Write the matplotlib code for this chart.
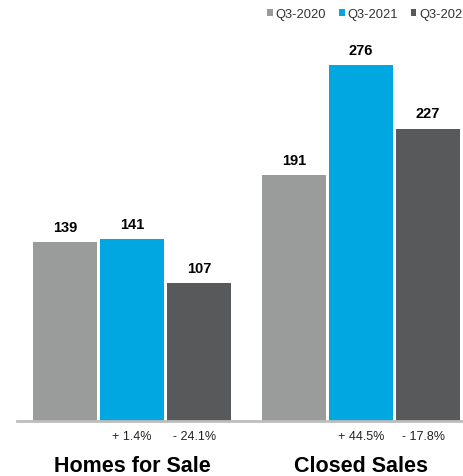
import numpy as np
import matplotlib.pyplot as plt

plt.rcParams['font.family'] = ['Liberation Sans', 'DejaVu Sans']

categories = ['Homes for Sale', 'Closed Sales']
series = ['Q3-2020', 'Q3-2021', 'Q3-2022']
q3_2020 = [139, 191]
q3_2021 = [141, 276]
q3_2022 = [107, 227]
chg_2021 = ['+ 1.4%', '+ 44.5%']
chg_2022 = ['- 24.1%', '- 17.8%']

colors = ['#9a9c9c', '#00a7e1', '#58595b']

fig = plt.figure(figsize=(4.63, 4.77), dpi=100)
ax = fig.add_axes([17 / 463, 55 / 477, 446 / 463, 422 / 477])

x = np.arange(len(categories))
step = 0.2926
width = 0.2795
handles = []
for i, (vals, col, lab) in enumerate(zip([q3_2020, q3_2021, q3_2022], colors, series)):
    b = ax.bar(x + (i - 1) * step, vals, width=width, color=col, label=lab)
    handles.append(b)
    for xx, v in zip(x + (i - 1) * step, vals):
        ax.annotate(str(v), (xx, v), xytext=(0, 6), textcoords='offset points',
                    ha='center', va='bottom', fontsize=10.5, fontweight='bold')

ax.set_xlim(-0.502, 1.445)
ax.set_ylim(0, 327.6)
for s in ['top', 'right', 'left']:
    ax.spines[s].set_visible(False)
ax.spines['bottom'].set_color('#bdbdbd')
ax.spines['bottom'].set_linewidth(2)
ax.set_yticks([])
ax.set_xticks([])

for xx, a, b in zip(x, chg_2021, chg_2022):
    ax.annotate(a, (xx, 0), xytext=(0, -11), textcoords='offset points',
                ha='center', va='center', fontsize=9, color='#222222')
    ax.annotate(b, (xx + step, 0), xytext=(-3, -11), textcoords='offset points',
                ha='center', va='center', fontsize=9, color='#222222')
for xx, c in zip(x, categories):
    ax.annotate(c, (xx, 0), xytext=(0, -32), textcoords='offset points',
                ha='center', va='center', fontsize=15.5, fontweight='bold')

# legend is cut at the right edge in the original too
fig.legend(handles=handles, loc='upper left', bbox_to_anchor=(267 / 463, 1 - 9 / 477),
           ncol=3, frameon=False, fontsize=9.3, handlelength=0.45, handleheight=0.45,
           handletextpad=0.2, columnspacing=1.0, borderaxespad=0, borderpad=0,
           labelcolor='#333333')

fig.savefig('out.png', dpi=100)
